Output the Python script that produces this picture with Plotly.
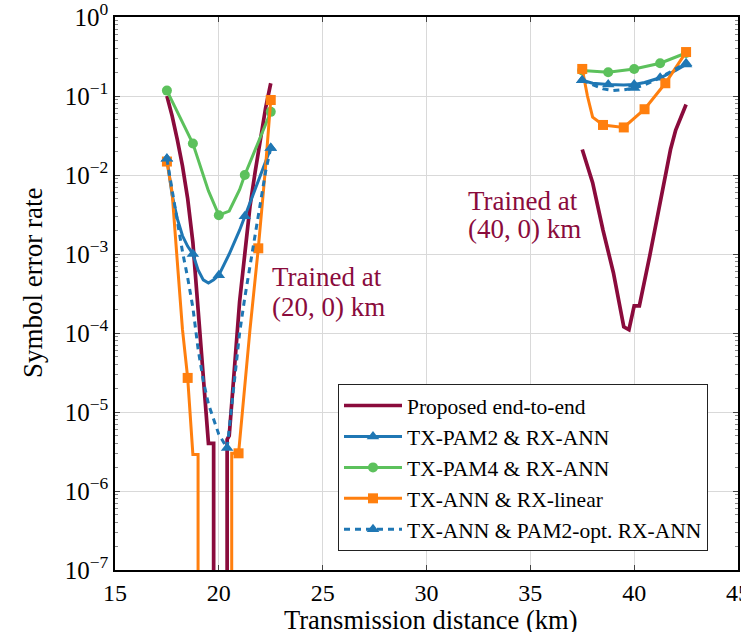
import plotly.graph_objects as go

# value plotted for measured SER = 0 (drawn below the axis floor, as in the original)
ZERO_SER = 1e-9

# ---------------- Proposed end-to-end ----------------
prop_x = [17.5, 17.75, 18.0, 18.25, 18.5, 18.75, 19.0, 19.25, 19.5, 19.75, 19.75,
          None,
          20.4, 20.4, 20.5, 20.75, 21.0, 21.25, 21.5, 21.75, 22.0, 22.25, 22.5,
          None,
          37.5, 37.75, 38.0, 38.5, 39.0, 39.5, 39.75, 40.0, 40.25, 40.75, 41.25, 41.75, 42.0, 42.5]
prop_y = [0.1, 0.056, 0.028, 0.013, 5.0e-3, 1.4e-3, 2.0e-4, 3.2e-5, 4.0e-6, 4.0e-6, ZERO_SER,
          None,
          ZERO_SER, 4.5e-6, 5.0e-6, 4.0e-5, 2.5e-4, 1.0e-3, 4.0e-3, 0.011, 0.028, 0.07, 0.145,
          None,
          0.021, 0.013, 8.0e-3, 2.0e-3, 5.8e-4, 1.2e-4, 1.1e-4, 2.2e-4, 2.2e-4, 9.5e-4, 4.5e-3, 0.021, 0.037, 0.078]

# ---------------- TX-PAM2 & RX-ANN ----------------
pam2_x = [17.5, 17.75, 18.0, 18.25, 18.5, 18.75, 19.0, 19.25, 19.5, 19.75, 20.0, 20.5, 21.0, 21.25, 21.5, 22.0, 22.5,
          None,
          37.5, 38.0, 38.75, 39.5, 40.0, 40.5, 41.25, 42.0, 42.5]
pam2_y = [0.016, 5.6e-3, 2.8e-3, 1.7e-3, 1.25e-3, 1.0e-3, 6.3e-4, 4.7e-4, 4.3e-4, 4.7e-4, 5.4e-4, 1.0e-3, 2.0e-3, 3.0e-3, 4.5e-3, 0.01, 0.022,
          None,
          0.158, 0.145, 0.14, 0.138, 0.14, 0.148, 0.17, 0.21, 0.25]
pam2_mx = [17.5, 18.75, 20.0, 21.25, 22.5, 37.5, 38.75, 40.0, 41.25, 42.5]
pam2_my = [0.016, 1.0e-3, 5.4e-4, 3.0e-3, 0.022, 0.158, 0.14, 0.14, 0.17, 0.25]

# ---------------- TX-PAM4 & RX-ANN ----------------
pam4_x = [17.5, 18.75, 19.5, 20.0, 20.5, 21.0, 21.25, 22.5,
          None,
          37.5, 38.75, 40.0, 41.25, 42.5]
pam4_y = [0.117, 0.025, 6.3e-3, 3.1e-3, 3.5e-3, 6.5e-3, 0.01, 0.063,
          None,
          0.21, 0.2, 0.22, 0.26, 0.35]
pam4_mx = [17.5, 18.75, 20.0, 21.25, 22.5, 37.5, 38.75, 40.0, 41.25, 42.5]
pam4_my = [0.117, 0.025, 3.1e-3, 0.01, 0.063, 0.21, 0.2, 0.22, 0.26, 0.35]

# ---------------- TX-ANN & RX-linear ----------------
lin_x = [17.5, 17.75, 18.0, 18.25, 18.5, 18.75, 19.0, 19.0,
         None,
         20.62, 20.62, 20.95, 21.25, 21.5, 21.9, 22.25, 22.5,
         None,
         37.5, 37.75, 38.0, 38.5, 39.5, 40.5, 41.5, 42.5]
lin_y = [0.0148, 6.0e-3, 8.0e-4, 1.1e-4, 2.7e-5, 2.9e-6, 2.9e-6, ZERO_SER,
         None,
         ZERO_SER, 3.0e-6, 3.0e-6, 2.2e-5, 1.1e-4, 1.18e-3, 0.0126, 0.089,
         None,
         0.22, 0.1, 0.054, 0.043, 0.040, 0.068, 0.145, 0.36]
lin_mx = [17.5, 18.5, 20.95, 21.9, 22.5, 37.5, 38.5, 39.5, 40.5, 41.5, 42.5]
lin_my = [0.0148, 2.7e-5, 3.0e-6, 1.18e-3, 0.089, 0.22, 0.043, 0.040, 0.068, 0.145, 0.36]

# ---------------- TX-ANN & PAM2-opt. RX-ANN ----------------
opt_x = [17.5, 17.75, 18.0, 18.25, 18.5, 18.75, 19.0, 19.25, 19.5, 19.75, 20.0, 20.4,
         20.75, 21.0, 21.25, 21.5, 21.75, 22.0, 22.25, 22.5,
         None,
         37.5, 38.0, 38.5, 39.0, 39.5, 40.0, 40.5, 41.0, 41.5, 42.0, 42.5]
opt_y = [0.016, 6.3e-3, 2.8e-3, 1.07e-3, 5.0e-4, 2.1e-4, 6.3e-5, 2.5e-5, 1.26e-5, 8.0e-6, 5.2e-6, 3.5e-6,
         2.5e-5, 1.0e-4, 2.8e-4, 7.0e-4, 1.6e-3, 4.5e-3, 0.011, 0.022,
         None,
         0.158, 0.138, 0.123, 0.117, 0.12, 0.126, 0.138, 0.158, 0.186, 0.22, 0.26]
opt_mx = [17.5, 20.4, 22.5, 37.5, 40.0, 42.5]
opt_my = [0.016, 3.5e-6, 0.022, 0.158, 0.126, 0.26]

# axis ticks
x_ticks = [15, 20, 25, 30, 35, 40, 45]
y_exps = [0, -1, -2, -3, -4, -5, -6, -7]

# annotation texts
ann_left = ["Trained at", "(20, 0) km"]
ann_right = ["Trained at", "(40, 0) km"]

# styles
C_PROP = "#8a0b3c"
C_BLUE = "#1f77b4"
C_GREEN = "#5cc15c"
C_ORANGE = "#ff7f0e"
FONT = "Liberation Serif"

fig = go.Figure()

def add_series(name, x, y, mx, my, color, symbol, msize, dash="solid", width=3):
    fig.add_trace(go.Scatter(x=x, y=y, mode="lines", line=dict(color=color, width=width, dash=dash),
                             showlegend=False, hoverinfo="skip", connectgaps=False))
    if mx:
        fig.add_trace(go.Scatter(x=mx, y=my, mode="markers",
                                 marker=dict(color=color, symbol=symbol, size=msize),
                                 showlegend=False, hoverinfo="skip"))
    fig.add_trace(go.Scatter(x=[None], y=[None], name=name,
                             mode="lines+markers" if mx else "lines",
                             line=dict(color=color, width=width, dash=dash),
                             marker=dict(color=color, symbol=symbol, size=msize),
                             legendgroup=name))

add_series("Proposed end-to-end", prop_x, prop_y, None, None, C_PROP, "circle", 0, width=3.7)
add_series("TX-PAM2 &amp; RX-ANN", pam2_x, pam2_y, pam2_mx, pam2_my, C_BLUE, "triangle-up", 11)
add_series("TX-PAM4 &amp; RX-ANN", pam4_x, pam4_y, pam4_mx, pam4_my, C_GREEN, "circle", 10)
add_series("TX-ANN &amp; RX-linear", lin_x, lin_y, lin_mx, lin_my, C_ORANGE, "square", 10)
add_series("TX-ANN &amp; PAM2-opt. RX-ANN", opt_x, opt_y, opt_mx, opt_my, C_BLUE, "triangle-up", 11,
           dash="6px,5px")

minor_vals = [m * 10.0 ** e for e in range(-7, 0) for m in range(2, 10)]

fig.update_xaxes(range=[15, 45], tickvals=x_ticks, ticktext=[str(v) for v in x_ticks],
                 showgrid=True, gridcolor="#d9d9d9", gridwidth=1,
                 showline=True, linecolor="black", linewidth=1.5, mirror="allticks",
                 ticks="inside", ticklen=5, tickcolor="#444",
                 tickfont=dict(family=FONT, size=24, color="black"),
                 ticklabeloverflow="allow",
                 zeroline=False, automargin=False)
fig.update_yaxes(type="log", range=[-7, 0],
                 tickvals=[10.0 ** e for e in y_exps],
                 ticktext=["10<sup>%s</sup>" % (str(e).replace("-", "\u2212")) for e in y_exps],
                 showgrid=True, gridcolor="#d9d9d9", gridwidth=1,
                 showline=True, linecolor="black", linewidth=1.5, mirror="allticks",
                 ticks="inside", ticklen=5, tickcolor="#444",
                 minor=dict(tickvals=minor_vals, ticks="inside", ticklen=3, tickcolor="#888", showgrid=False),
                 tickfont=dict(family=FONT, size=25, color="black"),
                 ticklabeloverflow="allow",
                 automargin=False)

for txt, yy in zip(ann_left, [-3.29, -3.67]):
    fig.add_annotation(x=22.45, y=yy, xref="x", yref="y", xanchor="left", yanchor="middle",
                       text=txt, showarrow=False, font=dict(family=FONT, size=27, color=C_PROP))
for txt, yy in zip(ann_right, [-2.33, -2.68]):
    fig.add_annotation(x=31.9, y=yy, xref="x", yref="y", xanchor="left", yanchor="middle",
                       text=txt, showarrow=False, font=dict(family=FONT, size=27, color=C_PROP))

fig.add_annotation(x=(33 - 115) / 623, y=(570 - 283) / 553, xref="paper", yref="paper", textangle=-90,
                   text="Symbol error rate", showarrow=False, xanchor="center", yanchor="middle",
                   font=dict(family=FONT, size=27, color="black"))
fig.add_annotation(x=(430 - 115) / 623, y=(570 - 620) / 553, xref="paper", yref="paper",
                   text="Transmission distance (km)", showarrow=False, xanchor="center", yanchor="middle",
                   font=dict(family=FONT, size=26.5, color="black"))

fig.update_layout(
    width=741, height=632,
    margin=dict(l=115, r=3, t=17, b=62),
    plot_bgcolor="white", paper_bgcolor="white",
    legend=dict(x=(338 - 115) / 623, y=(570 - 384) / 553, xanchor="left", yanchor="top",
                bgcolor="white", bordercolor="#222", borderwidth=1,
                font=dict(family=FONT, size=21.5, color="black"),
                tracegroupgap=0, itemwidth=58, traceorder="grouped"),
)

fig.write_html("out.html")
